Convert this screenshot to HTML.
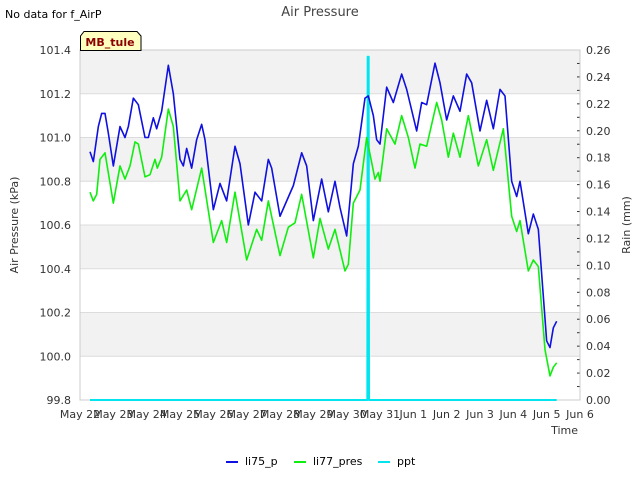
<!DOCTYPE html>
<html><head><meta charset="utf-8"><style>
body{margin:0;background:#fff;font-family:"Liberation Sans",sans-serif}
svg text{font-family:"DejaVu Sans","Liberation Sans",sans-serif}
</style></head><body>
<svg id="c" width="640" height="480" viewBox="0 0 640 480"></svg>
<script>
const blueDays=[0.3,0.4,0.55,0.65,0.75,0.85,1.0,1.2,1.35,1.45,1.6,1.75,1.95,2.05,2.2,2.3,2.45,2.65,2.8,3.0,3.1,3.2,3.35,3.5,3.65,3.75,4.0,4.2,4.4,4.65,4.8,5.05,5.25,5.45,5.65,5.75,6.0,6.4,6.65,6.8,7.0,7.25,7.45,7.65,7.8,8.0,8.2,8.35,8.55,8.65,8.8,8.9,9.0,9.2,9.4,9.65,9.8,10.1,10.25,10.4,10.65,10.8,11.0,11.2,11.4,11.6,11.75,12.0,12.2,12.4,12.6,12.75,12.95,13.1,13.2,13.45,13.6,13.75,14.0,14.1,14.2,14.3];
const blueVals=[100.935,100.89,101.05,101.11,101.11,101.02,100.87,101.05,101.0,101.05,101.18,101.15,101.0,101.0,101.09,101.04,101.12,101.33,101.2,100.9,100.87,100.95,100.86,100.99,101.06,100.99,100.67,100.79,100.71,100.96,100.88,100.6,100.75,100.71,100.9,100.86,100.64,100.78,100.93,100.87,100.62,100.81,100.66,100.8,100.68,100.55,100.88,100.96,101.18,101.19,101.1,100.99,100.97,101.23,101.16,101.29,101.22,101.03,101.16,101.15,101.34,101.25,101.08,101.19,101.12,101.29,101.25,101.03,101.17,101.04,101.22,101.19,100.8,100.73,100.8,100.56,100.65,100.58,100.07,100.04,100.13,100.16];
const greenDays=[0.3,0.4,0.5,0.6,0.75,1.0,1.2,1.35,1.5,1.65,1.75,1.95,2.1,2.25,2.32,2.45,2.65,2.8,3.0,3.2,3.35,3.65,4.0,4.25,4.4,4.65,5.0,5.3,5.45,5.65,6.0,6.25,6.45,6.65,7.0,7.2,7.45,7.65,7.95,8.05,8.2,8.4,8.6,8.85,8.95,9.0,9.2,9.45,9.65,9.85,10.05,10.2,10.4,10.7,10.85,11.05,11.2,11.4,11.65,11.95,12.2,12.4,12.7,12.95,13.1,13.2,13.45,13.6,13.75,13.95,14.1,14.2,14.3];
const greenVals=[100.75,100.71,100.74,100.9,100.93,100.7,100.87,100.81,100.87,100.98,100.97,100.82,100.83,100.9,100.86,100.91,101.13,101.05,100.71,100.76,100.67,100.86,100.52,100.62,100.52,100.75,100.44,100.58,100.53,100.71,100.46,100.59,100.61,100.74,100.45,100.63,100.49,100.58,100.39,100.42,100.7,100.76,101.0,100.81,100.84,100.8,101.04,100.97,101.1,101.0,100.86,100.97,100.96,101.16,101.08,100.91,101.02,100.91,101.1,100.87,100.99,100.85,101.04,100.64,100.57,100.62,100.39,100.44,100.41,100.03,99.91,99.95,99.97];
const pptDays=[0.3,8.62,8.63,8.66,8.67,14.3];
const pptVals=[0,0,0.255,0.255,0,0];
const xLabels=["May 22","May 23","May 24","May 25","May 26","May 27","May 28","May 29","May 30","May 31","Jun 1","Jun 2","Jun 3","Jun 4","Jun 5","Jun 6"];
const leftTicks=[99.8,100.0,100.2,100.4,100.6,100.8,101.0,101.2,101.4];
const rightTicks=[0,0.02,0.04,0.06,0.08,0.10,0.12,0.14,0.16,0.18,0.20,0.22,0.24,0.26];

const L=80,R=580,T=50,B=400;
const xs=d=>L+d*(R-L)/15;
const yl=v=>B-(v-99.8)*(B-T)/1.6;
const yr=v=>B-v*(B-T)/0.26;
const svg=document.getElementById('c');
const NS='http://www.w3.org/2000/svg';
function mk(tag,at,parent){const e=document.createElementNS(NS,tag);for(const k in at)e.setAttribute(k,at[k]);(parent||svg).appendChild(e);return e;}
function txt(s,at){const e=mk('text',at);e.textContent=s;return e;}

// bands
for(let i=0;i<leftTicks.length-1;i++){
  if((leftTicks.length-2-i)%2===0){
    const r=mk('rect',{x:L,y:yl(leftTicks[i+1]),width:R-L,height:yl(leftTicks[i])-yl(leftTicks[i+1]),fill:'#f2f2f2'});
    
    
  }
}
leftTicks.forEach(v=>{
  const g=mk('line',{x1:L,x2:R,y1:yl(v),y2:yl(v),stroke:'#dcdcdc','stroke-width':1});
  
  
  const t=txt(v.toFixed(1),{x:L-9,y:yl(v)+4,'text-anchor':'end','font-size':11,fill:'#333'});
  
  
});
rightTicks.forEach(v=>{
  const t=txt(v.toFixed(2),{x:R+6,y:yr(v)+4,'font-size':11,fill:'#333'});
  
  
  const tk=mk('line',{x1:R-3,x2:R,y1:yr(v),y2:yr(v),stroke:'#333'});
  
  
  if(v<0.26){const m=mk('line',{x1:R-3,x2:R,y1:yr(v+0.01),y2:yr(v+0.01),stroke:'#333'});
  
  }
});
xLabels.forEach((s,i)=>{
  const t=txt(s,{x:xs(i),y:B+18,'text-anchor':'middle','font-size':11,fill:'#333'});
  
  
});
const ax=mk('rect',{x:L,y:T,width:R-L,height:B-T,fill:'none',stroke:'#ccc'});



function series(days,vals,ysc,color,w,name){
  const p=mk('polyline',{points:days.map((d,i)=>xs(d)+','+ysc(vals[i])).join(' '),fill:'none',stroke:color,'stroke-width':w,'stroke-linejoin':'round'});
  
  
}
series(pptDays,pptVals,yr,'#00e5ee',2,'ppt-line');
series(blueDays,blueVals,yl,'#1010e0',1.6,'li75-p-line');
series(greenDays,greenVals,yl,'#10ee10',1.6,'li77-pres-line');
</script>
<script>
(function(){
const svg=document.getElementById('c');const NS='http://www.w3.org/2000/svg';
function t(s,at,name){const e=document.createElementNS(NS,'text');for(const k in at)e.setAttribute(k,at[k]);e.textContent=s;svg.appendChild(e);

return e;}
t('Air Pressure',{x:320,y:16,'text-anchor':'middle','font-size':13,fill:'#444'},'chart-title');
t('No data for f_AirP',{x:5,y:18,'font-size':11,fill:'#000'},'no-data-note');
t('Time',{x:578,y:434,'text-anchor':'end','font-size':11,fill:'#333'},'x-axis-title');
t('Air Pressure (kPa)',{x:18,y:225,'text-anchor':'middle','font-size':11,fill:'#333',transform:'rotate(-90 18 225)'},'y-axis-title');
t('Rain (mm)',{x:630,y:225,'text-anchor':'middle','font-size':11,fill:'#333',transform:'rotate(-90 630 225)'},'y2-axis-title');
const b=document.createElementNS(NS,'path');
b.setAttribute('d','M80.5,50.5 L80.5,36 L84,31.5 L137,31.5 L141,36 L141,50.5 Z');
b.setAttribute('fill','#ffffc0');b.setAttribute('stroke','#000');


svg.appendChild(b);
t('MB_tule',{x:110,y:46,'text-anchor':'middle','font-size':11,'font-weight':'bold',fill:'#8b0000'},'site-badge-label');
const items=[['li75_p','#1010e0',226],['li77_pres','#10ee10',294],['ppt','#00e5ee',378]];
items.forEach(([n,c,x])=>{
 const l=document.createElementNS(NS,'line');
 l.setAttribute('x1',x);l.setAttribute('x2',x+12);l.setAttribute('y1',462);l.setAttribute('y2',462);
 l.setAttribute('stroke',c);l.setAttribute('stroke-width',2);
 
 
 svg.appendChild(l);
 t(n,{x:x+19,y:465,'font-size':11,fill:'#000'},'legend-entry');
});
})();
</script>
</body></html>
